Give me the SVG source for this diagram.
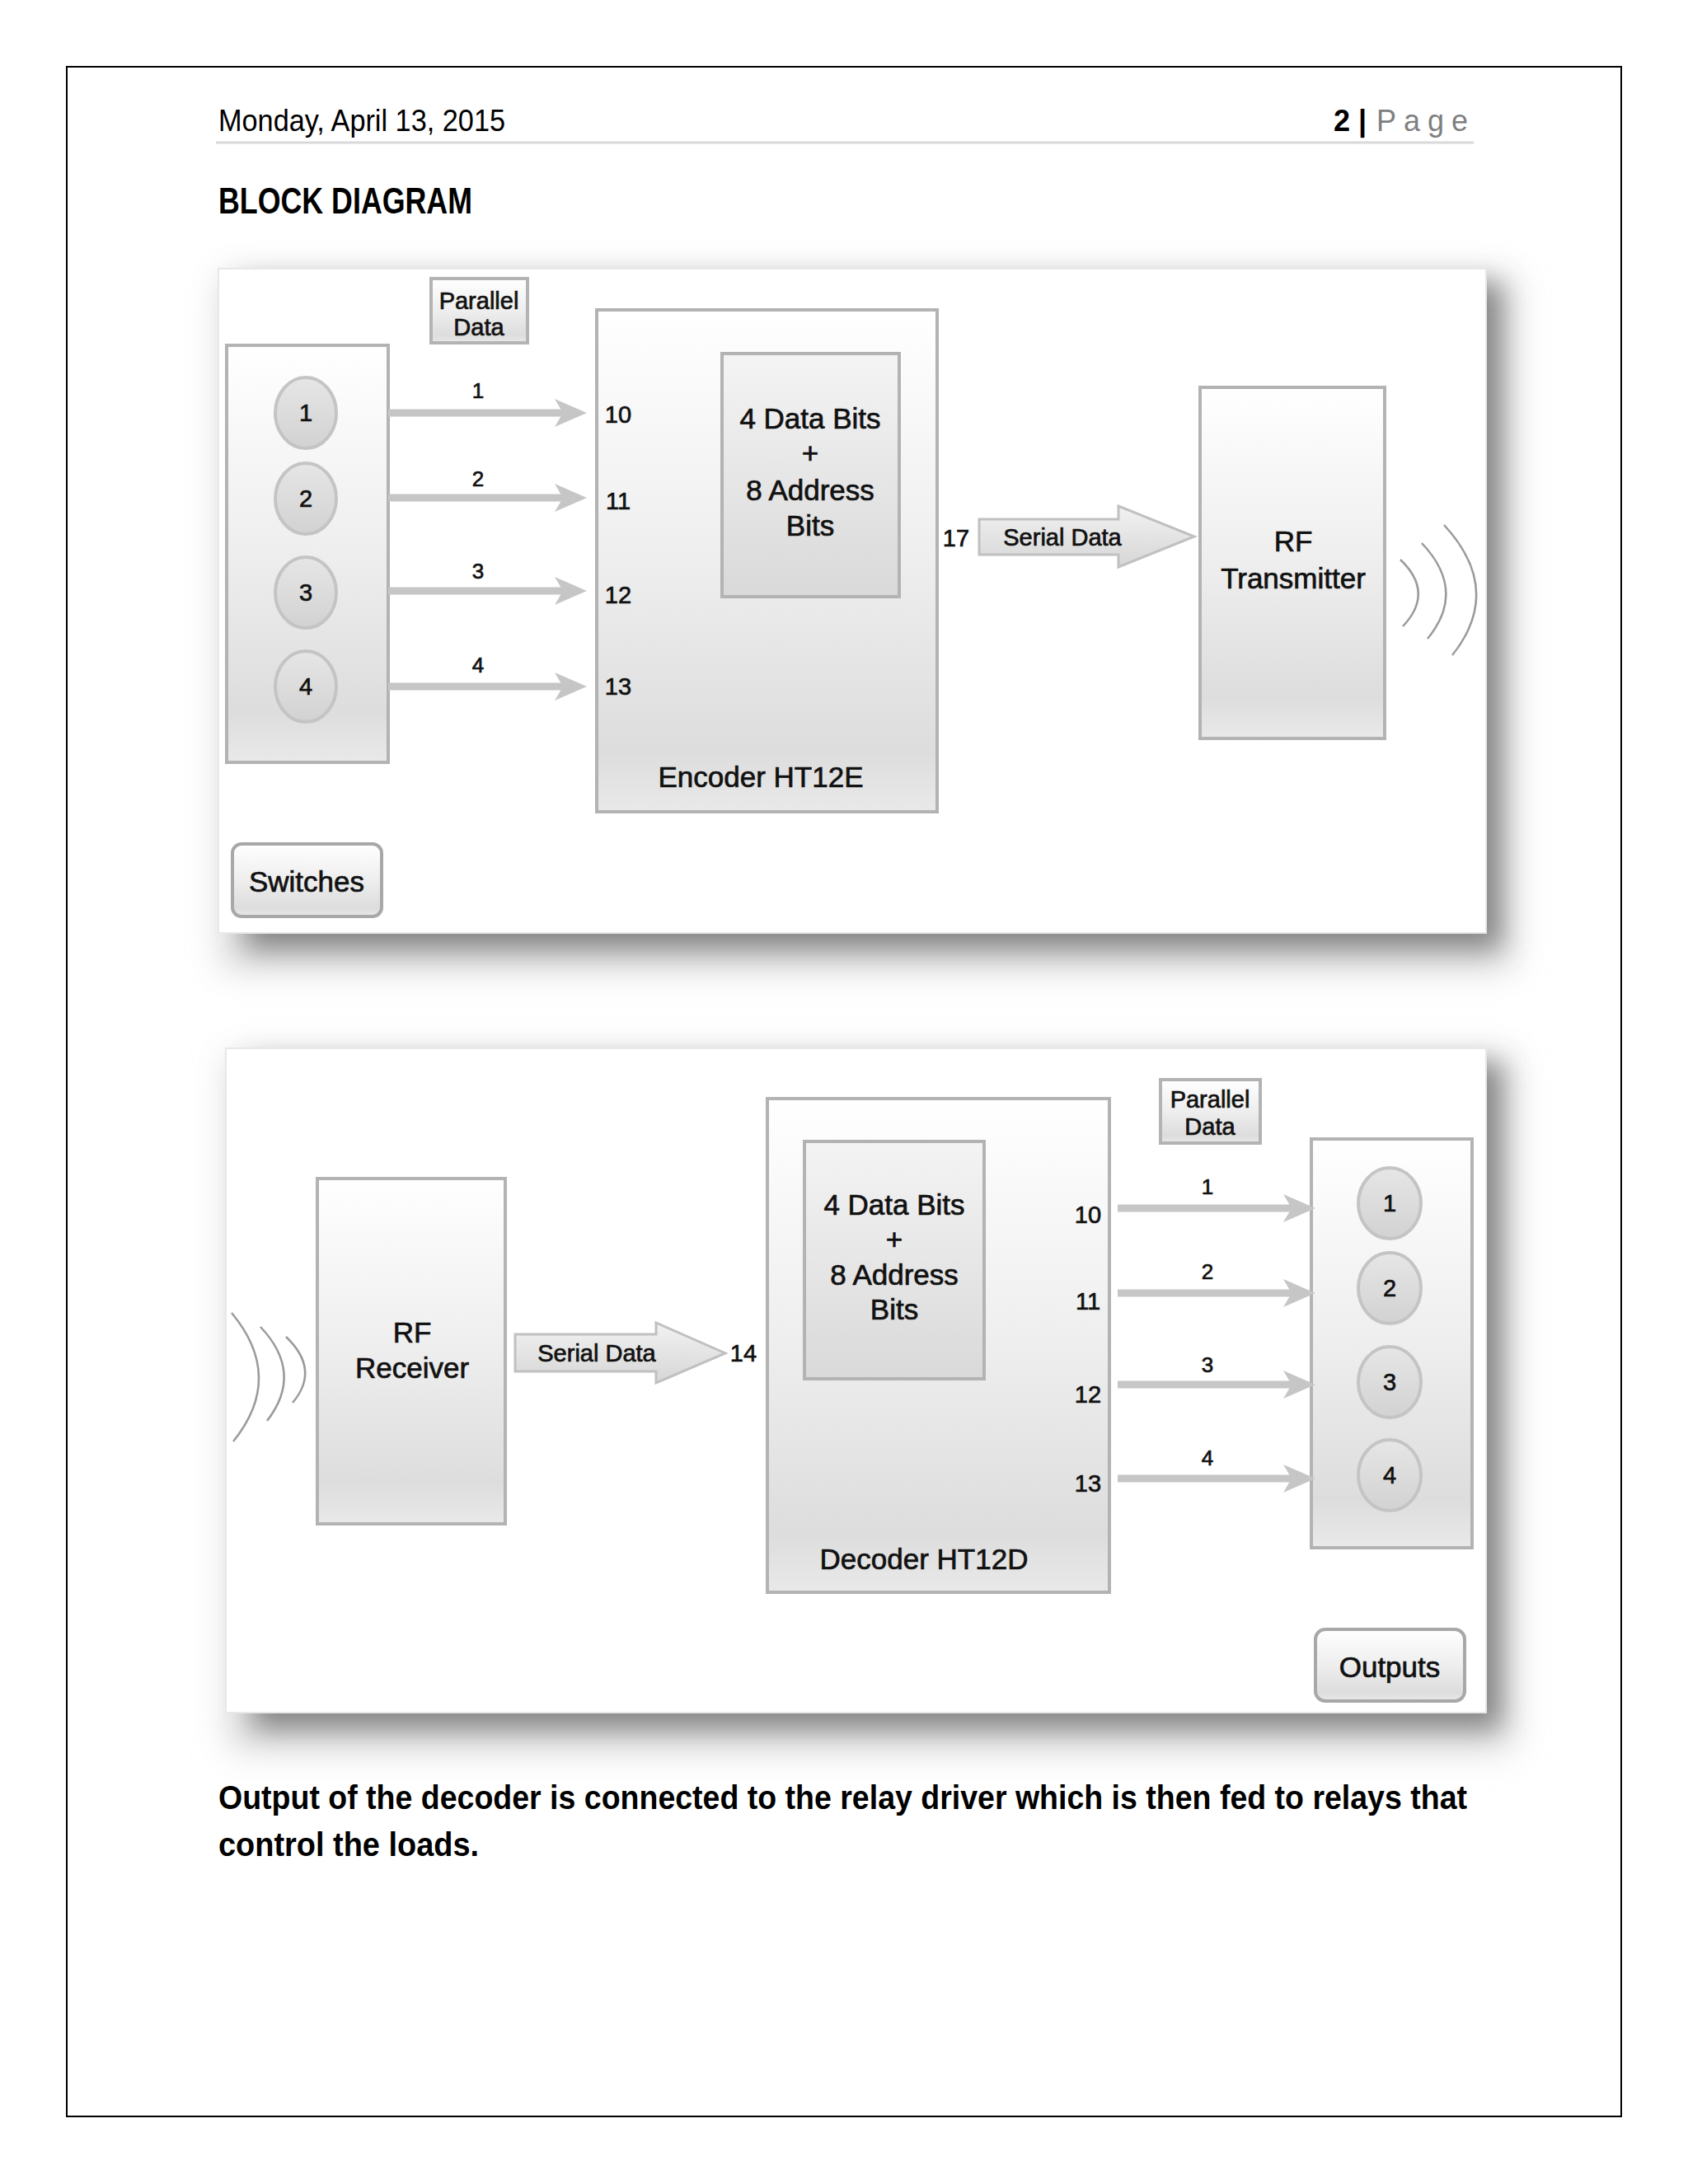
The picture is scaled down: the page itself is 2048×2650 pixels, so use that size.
<svg xmlns="http://www.w3.org/2000/svg" width="2048" height="2650" viewBox="0 0 2048 2650">
<defs>
<linearGradient id="boxG" x1="0" y1="0" x2="0" y2="1">
<stop offset="0" stop-color="#ffffff"/><stop offset="0.5" stop-color="#eeeeee"/><stop offset="0.88" stop-color="#dddddd"/><stop offset="1" stop-color="#e9e9e9"/>
</linearGradient>
<linearGradient id="innerG" x1="0" y1="0" x2="0" y2="1">
<stop offset="0" stop-color="#f4f4f4"/><stop offset="1" stop-color="#d9d9d9"/>
</linearGradient>
<linearGradient id="circG" x1="0" y1="0" x2="0" y2="1">
<stop offset="0" stop-color="#e6e6e6"/><stop offset="1" stop-color="#d2d2d2"/>
</linearGradient>
<linearGradient id="arrG" x1="0" y1="0" x2="0" y2="1">
<stop offset="0" stop-color="#f2f2f2"/><stop offset="1" stop-color="#d6d6d6"/>
</linearGradient>
<filter id="blur" x="-10%" y="-15%" width="120%" height="130%">
<feGaussianBlur stdDeviation="16"/>
</filter>
<filter id="halo" x="-10%" y="-15%" width="120%" height="130%">
<feGaussianBlur stdDeviation="22"/>
</filter>
<marker id="ah" markerUnits="userSpaceOnUse" markerWidth="40" markerHeight="36" refX="14" refY="18" orient="auto">
<path d="M0,1 L39,18 L0,35 L10,18 Z" fill="#c6c6c6"/>
</marker>
<style>
.box{fill:url(#boxG);stroke:#b3b3b3;stroke-width:4}
.inner{fill:url(#innerG);stroke:#b3b3b3;stroke-width:4}
.circ{fill:url(#circG);stroke:#c4c4c4;stroke-width:4}
.btn{fill:url(#boxG);stroke:#a8a8a8;stroke-width:4}
.sarrow{fill:url(#arrG);stroke:#c0c0c0;stroke-width:3}
.wire{stroke:#c6c6c6;stroke-width:9;fill:none;marker-end:url(#ah)}
.wave{stroke:#9a9a9a;stroke-width:2.5;fill:none}
.t{font-family:"Liberation Sans",Arial,sans-serif;fill:#111;stroke:#111;stroke-width:0.7;text-anchor:middle}
.t35{font-size:35px}
.t28{font-size:29px}
.t26{font-size:26px}
.doc{font-family:"Liberation Sans",Arial,sans-serif;fill:#000}
</style>
</defs>
<rect x="0" y="0" width="2048" height="2650" fill="#ffffff"/>
<rect x="81" y="81" width="1886" height="2487" fill="none" stroke="#000" stroke-width="2"/>

<g id="header">
<text class="doc" x="265" y="159" font-size="36" textLength="348" lengthAdjust="spacingAndGlyphs">Monday, April 13, 2015</text>
<text class="doc" x="1618" y="159" font-size="36"><tspan font-weight="bold">2 | </tspan><tspan x="1670" fill="#7f7f7f" letter-spacing="9">Page</tspan></text>
<line x1="262" y1="173" x2="1788" y2="173" stroke="#d9d9d9" stroke-width="3"/>
<text class="doc" x="265" y="259" font-size="44" font-weight="bold" textLength="308" lengthAdjust="spacingAndGlyphs">BLOCK DIAGRAM</text>
</g>

<!-- Top panel -->
<g id="panel-top">
<rect x="270" y="335" width="1565" height="840" fill="#d4d4d4" filter="url(#halo)"/>
<rect x="300" y="345" width="1520" height="805" fill="#848484" filter="url(#blur)"/>
<rect x="265" y="326" width="1538" height="806" fill="#ffffff" stroke="#e8e8e8" stroke-width="2"/>
</g>
<g id="parallel-data-top">
<rect class="box" x="523" y="338" width="117" height="78"/>
<text class="t t28" x="581" y="375">Parallel</text>
<text class="t t28" x="581" y="407">Data</text>
</g>
<g id="switches-panel">
<rect class="box" x="275" y="419" width="196" height="506"/>
<ellipse class="circ" cx="371" cy="501" rx="37" ry="43"/>
<ellipse class="circ" cx="371" cy="605" rx="37" ry="43"/>
<ellipse class="circ" cx="371" cy="719" rx="37" ry="43"/>
<ellipse class="circ" cx="371" cy="833" rx="37" ry="43"/>
<text class="t t28" x="371" y="511">1</text>
<text class="t t28" x="371" y="615">2</text>
<text class="t t28" x="371" y="729">3</text>
<text class="t t28" x="371" y="843">4</text>
</g>
<g id="encoder">
<rect class="box" x="724" y="376" width="413" height="609"/>
<rect class="inner" x="876" y="429" width="215" height="295"/>
<text class="t t35" x="983" y="520">4 Data Bits</text>
<text class="t t35" x="983" y="562">+</text>
<text class="t t35" x="983" y="607">8 Address</text>
<text class="t t35" x="983" y="650">Bits</text>
<text class="t t35" x="923" y="955">Encoder HT12E</text>
<text class="t t28" x="750" y="513">10</text>
<text class="t t28" x="750" y="618">11</text>
<text class="t t28" x="750" y="732">12</text>
<text class="t t28" x="750" y="843">13</text>
</g>
<g id="rf-transmitter">
<rect class="box" x="1456" y="470" width="224" height="426"/>
<text class="t t35" x="1569" y="669">RF</text>
<text class="t t35" x="1569" y="714">Transmitter</text>
<path class="wave" d="M1699,679 Q1741,719 1702,760"/>
<path class="wave" d="M1725,659 Q1780,717 1732,775"/>
<path class="wave" d="M1752,637 Q1825,716 1762,795"/>
</g>
<g id="switches-label">
<rect class="btn" x="282" y="1024" width="181" height="88" rx="11"/>
<text class="t t35" x="372" y="1082">Switches</text>
</g>
<g id="connectors-top">
<line class="wire" x1="471" y1="501" x2="687" y2="501"/>
<line class="wire" x1="471" y1="604" x2="687" y2="604"/>
<line class="wire" x1="471" y1="717" x2="687" y2="717"/>
<line class="wire" x1="471" y1="833" x2="687" y2="833"/>
<text class="t t26" x="580" y="483">1</text>
<text class="t t26" x="580" y="590">2</text>
<text class="t t26" x="580" y="702">3</text>
<text class="t t26" x="580" y="816">4</text>
<polygon class="sarrow" points="1188,630 1357,630 1357,614 1449,651 1357,688 1357,673 1188,673"/>
<text class="t t28" x="1289" y="662">Serial Data</text>
<text class="t t28" x="1160" y="663">17</text>
</g>

<!-- Bottom panel -->
<g id="panel-bottom">
<rect x="279" y="1281" width="1556" height="840" fill="#d4d4d4" filter="url(#halo)"/>
<rect x="309" y="1291" width="1511" height="805" fill="#848484" filter="url(#blur)"/>
<rect x="274" y="1272" width="1529" height="806" fill="#ffffff" stroke="#e8e8e8" stroke-width="2"/>
</g>
<g id="rf-receiver">
<rect class="box" x="385" y="1430" width="228" height="419"/>
<text class="t t35" x="500" y="1629">RF</text>
<text class="t t35" x="500" y="1672">Receiver</text>
<path class="wave" d="M281,1593 Q346,1671 283,1749"/>
<path class="wave" d="M316,1610 Q369,1666 324,1724"/>
<path class="wave" d="M347,1622 Q389,1662 355,1702"/>
</g>
<g id="decoder">
<rect class="box" x="931" y="1333" width="415" height="599"/>
<rect class="inner" x="976" y="1385" width="218" height="288"/>
<text class="t t35" x="1085" y="1474">4 Data Bits</text>
<text class="t t35" x="1085" y="1516">+</text>
<text class="t t35" x="1085" y="1559">8 Address</text>
<text class="t t35" x="1085" y="1601">Bits</text>
<text class="t t35" x="1121" y="1904">Decoder HT12D</text>
<text class="t t28" x="1320" y="1484">10</text>
<text class="t t28" x="1320" y="1589">11</text>
<text class="t t28" x="1320" y="1702">12</text>
<text class="t t28" x="1320" y="1810">13</text>
</g>
<g id="parallel-data-bottom">
<rect class="box" x="1408" y="1310" width="121" height="77"/>
<text class="t t28" x="1468" y="1344">Parallel</text>
<text class="t t28" x="1468" y="1377">Data</text>
</g>
<g id="outputs-panel">
<rect class="box" x="1591" y="1382" width="195" height="496"/>
<ellipse class="circ" cx="1686" cy="1460" rx="38" ry="43"/>
<ellipse class="circ" cx="1686" cy="1563" rx="38" ry="43"/>
<ellipse class="circ" cx="1686" cy="1677" rx="38" ry="43"/>
<ellipse class="circ" cx="1686" cy="1790" rx="38" ry="43"/>
<text class="t t28" x="1686" y="1470">1</text>
<text class="t t28" x="1686" y="1573">2</text>
<text class="t t28" x="1686" y="1687">3</text>
<text class="t t28" x="1686" y="1800">4</text>
</g>
<g id="outputs-label">
<rect class="btn" x="1596" y="1977" width="181" height="87" rx="12"/>
<text class="t t35" x="1686" y="2035">Outputs</text>
</g>
<g id="connectors-bottom">
<polygon class="sarrow" points="625,1619 796,1619 796,1605 880,1642 796,1678 796,1664 625,1664"/>
<text class="t t28" x="724" y="1652">Serial Data</text>
<text class="t t28" x="902" y="1652">14</text>
<line class="wire" x1="1356" y1="1466" x2="1571" y2="1466"/>
<line class="wire" x1="1356" y1="1569" x2="1571" y2="1569"/>
<line class="wire" x1="1356" y1="1680" x2="1571" y2="1680"/>
<line class="wire" x1="1356" y1="1794" x2="1571" y2="1794"/>
<text class="t t26" x="1465" y="1449">1</text>
<text class="t t26" x="1465" y="1552">2</text>
<text class="t t26" x="1465" y="1665">3</text>
<text class="t t26" x="1465" y="1778">4</text>
</g>

<g id="caption">
<text class="doc" x="265" y="2195" font-size="40" font-weight="bold" textLength="1515" lengthAdjust="spacingAndGlyphs">Output of the decoder is connected to the relay driver which is then fed to relays that</text>
<text class="doc" x="265" y="2252" font-size="40" font-weight="bold" textLength="316" lengthAdjust="spacingAndGlyphs">control the loads.</text>
</g>
</svg>
